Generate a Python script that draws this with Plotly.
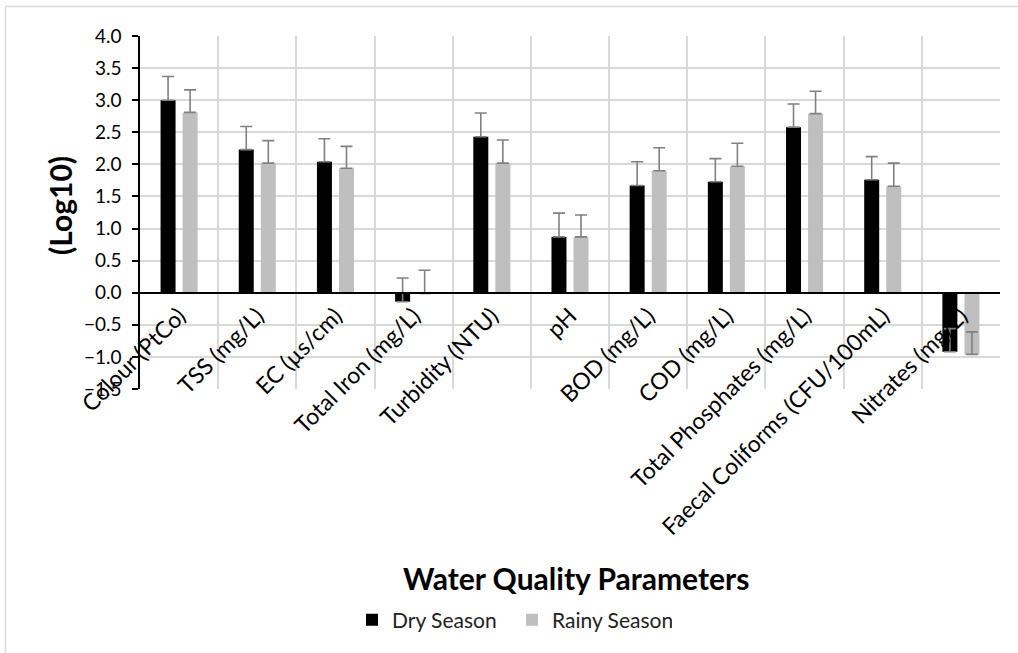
import plotly.graph_objects as go

categories = ["Colour (PtCo)", "TSS (mg/L)", "EC (µs/cm)", "Total Iron (mg/L)",
              "Turbidity (NTU)", "pH", "BOD (mg/L)", "COD (mg/L)",
              "Total Phosphates (mg/L)", "Faecal Coliforms (CFU/100mL)", "Nitrates (mg/L)"]
dry_values = [3.00, 2.23, 2.04, -0.14, 2.43, 0.87, 1.67, 1.73, 2.58, 1.76, -0.92]
dry_errors = [0.37, 0.36, 0.36, 0.37, 0.37, 0.37, 0.37, 0.36, 0.36, 0.36, 0.36]
rainy_values = [2.81, 2.02, 1.94, -0.01, 2.02, 0.87, 1.90, 1.97, 2.79, 1.66, -0.96]
rainy_errors = [0.35, 0.35, 0.34, 0.36, 0.36, 0.34, 0.36, 0.36, 0.35, 0.36, 0.35]
y_min, y_max = -1.5, 4.0

FONT = "Lato"
W, H = 1018, 653
ML, MT = 140, 36
PW, PH = 860, 353
MR = W - ML - PW
MB = H - MT - PH

def px_x(x):
    return (x - ML) / PW

def px_y(y):
    return (H - MB - y) / PH

err_style = dict(type="data", symmetric=False, color="#808080", thickness=1.6, width=6)

fig = go.Figure()
fig.add_trace(go.Bar(name="Dry Season", x=categories, y=dry_values, marker_color="#000000",
                     marker_line_width=0,
                     error_y=dict(array=dry_errors, arrayminus=[0] * len(dry_errors), **err_style)))
fig.add_trace(go.Bar(name="Rainy Season", x=categories, y=rainy_values, marker_color="#bfbfbf",
                     marker_line_width=0,
                     error_y=dict(array=rainy_errors, arrayminus=[0] * len(rainy_errors), **err_style)))

zero_pos = (0 - y_min) / (y_max - y_min)

fig.update_layout(
    width=W, height=H,
    margin=dict(l=ML, r=MR, t=MT, b=MB, autoexpand=False),
    paper_bgcolor="white", plot_bgcolor="white",
    barmode="group", bargap=0.436, bargroupgap=0.32,
    font=dict(family=FONT, size=19, color="#000000"),
    showlegend=True,
    legend=dict(orientation="h", x=px_x(352), xanchor="left", y=px_y(620), yanchor="middle",
                font=dict(family=FONT, size=21, color="#222222"), itemwidth=30,
                entrywidth=115,
                bgcolor="rgba(0,0,0,0)"),
    xaxis=dict(
        type="category", anchor="free", position=zero_pos,
        tickson="boundaries", showgrid=True, gridcolor="#d9d9d9", gridwidth=1.5,
        showline=True, linecolor="#000000", linewidth=1.5,
        ticks="", tickangle=-45, automargin=False,
        tickfont=dict(family=FONT, size=23, color="#000000"),
        range=[-0.5, len(categories) - 0.5],
    ),
    yaxis=dict(
        range=[y_min, y_max], dtick=0.5, tickformat=".1f",
        showgrid=True, gridcolor="#d9d9d9", gridwidth=1.5,
        zeroline=True, zerolinecolor="#000000", zerolinewidth=1.5,
        showline=True, linecolor="#000000", linewidth=1.5,
        ticks="outside", ticklen=6, tickcolor="#000000", tickwidth=1.5,
        ticklabelstandoff=7,
        tickfont=dict(family=FONT, size=19, color="#000000"),
        automargin=False,
    ),
    annotations=[
        dict(text="<b>Water Quality Parameters</b>", xref="paper", yref="paper",
             x=px_x(576), y=px_y(578), xanchor="center", yanchor="middle",
             showarrow=False, font=dict(family=FONT, size=30, color="#000000")),
        dict(text="<b>(Log10)</b>", xref="paper", yref="paper", textangle=-90,
             x=px_x(60), y=px_y(206), xanchor="center", yanchor="middle",
             showarrow=False, font=dict(family=FONT, size=30, color="#000000")),
    ],
    shapes=[
        dict(type="line", xref="paper", yref="paper",
             x0=px_x(5.5), x1=px_x(5.5), y0=px_y(700), y1=px_y(6.5),
             line=dict(color="#d9d9d9", width=1.5), layer="below"),
        dict(type="line", xref="paper", yref="paper",
             x0=px_x(5.5), x1=px_x(1060), y0=px_y(6.5), y1=px_y(6.5),
             line=dict(color="#d9d9d9", width=1.5), layer="below"),
    ],
)

fig.write_html("out.html", config={"displayModeBar": False},
               post_script="document.body.style.margin='0';")
